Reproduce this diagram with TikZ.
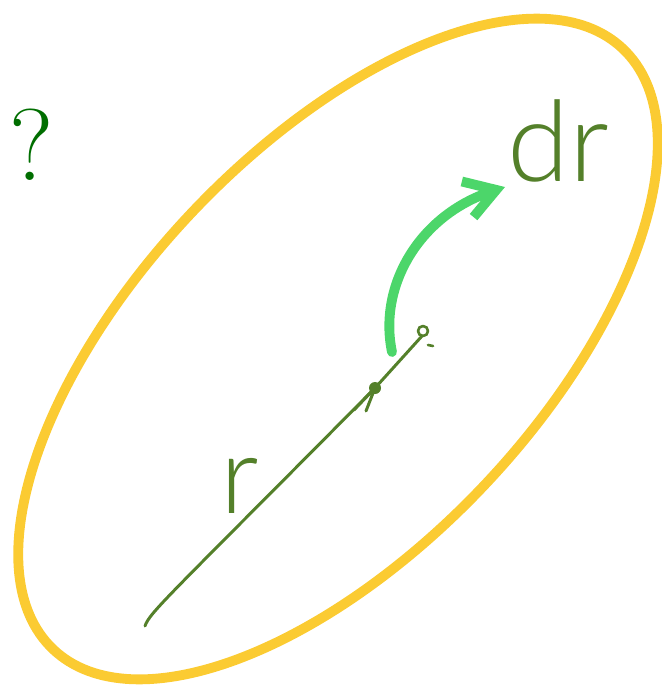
\documentclass[tikz,border=0pt]{standalone}
\usepackage{fontspec}
\newfontfamily\handfont{Lato}[UprightFont={* Light}]
\usetikzlibrary{arrows.meta}
\definecolor{loopyellow}{RGB}{251,203,50}
\definecolor{vecgreen}{RGB}{84,128,42}
\definecolor{stepgreen}{RGB}{76,214,106}
\definecolor{markgreen}{RGB}{0,110,0}

\begin{document}
\begin{tikzpicture}[x=0.02cm,y=-0.02cm,line cap=round,line join=round]
  \useasboundingbox (0,0) rectangle (662,696);
  % the closed loop
  \coordinate (c) at (338,349);
  \draw[loopyellow,line width=5.6pt,rotate around={46.5:(c)}]
    (c) ellipse [x radius=8.28cm,y radius=4.0cm];
  % nodes
  \node[markgreen,font=\fontsize{58}{60}\selectfont] (qm) at (32,145) {?};
  \node[vecgreen,font=\handfont\fontsize{64}{66}\selectfont] (dr) at (558,141) {dr};
  \node[vecgreen,font=\handfont\fontsize{62}{64}\selectfont] (r) at (240,486) {r};
  \coordinate (o) at (145,626);
  \coordinate (head) at (375,388);
  \coordinate (next) at (422,336);
  \coordinate (from) at (392,352);
  \coordinate (to) at (505,187);
  % position vector and its increment
  \draw[vecgreen,line width=1.7pt] (o) .. controls (150,612) and (165,600) .. (head);
  \draw[vecgreen,line width=1.7pt] (head) -- (next);
  \fill[vecgreen] (head) circle (6);
  \draw[vecgreen,line width=1.7pt] (head) -- (354,410) (head) -- (366,411);
  \draw[vecgreen,line width=1.5pt] (423,331) circle (5);
  \draw[vecgreen,line width=1.5pt] (428,345) -- (433,346);
  \draw[stepgreen,line width=5.6pt,-{Straight Barb[length=6mm,width=7.5mm]}]
    (from) .. controls (378,285) and (420,215) .. (to);
\end{tikzpicture}
\end{document}
